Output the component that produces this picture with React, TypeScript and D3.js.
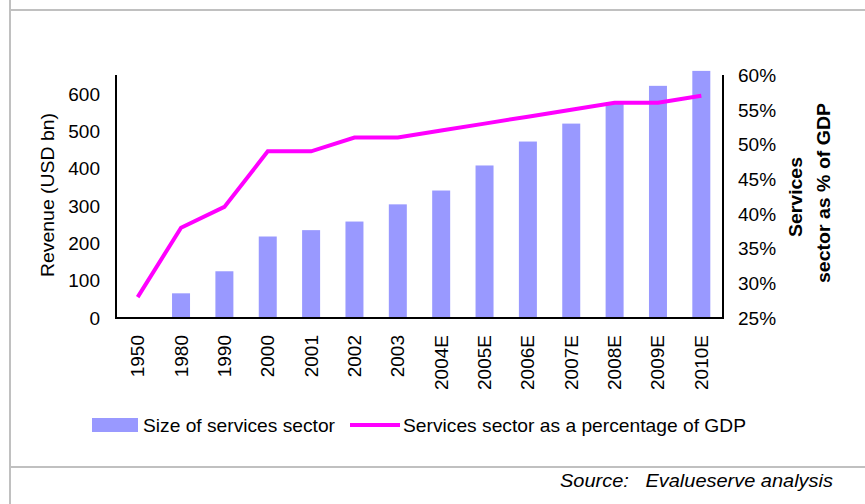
import React from "react";
import * as d3 from "d3";

const categories = ["1950", "1980", "1990", "2000", "2001", "2002", "2003", "2004E", "2005E", "2006E", "2007E", "2008E", "2009E", "2010E"];
const revenue = [0, 66, 125, 218, 235, 258, 304, 341, 408, 472, 520, 573, 621, 661];
const shareOfGdp = [28, 38, 41, 49, 49, 51, 51, 52, 53, 54, 55, 56, 56, 57];
const leftTicks = [0, 100, 200, 300, 400, 500, 600];
const rightTicks = [25, 30, 35, 40, 45, 50, 55, 60];

const W = 865;
const H = 504;
const plotLeft = 116;
const plotRight = 723;
const plotTop = 75;
const plotBottom = 318;
const FONT = "'Liberation Sans', Arial, sans-serif";
const FS = 19;

export default function App() {
  const x = d3.scaleBand<string>().domain(categories).range([plotLeft, plotRight]).paddingInner(0.585).paddingOuter(0.2925);
  const yL = d3.scaleLinear().domain([0, 650]).range([plotBottom, plotTop]);
  const yR = d3.scaleLinear().domain([25, 60]).range([plotBottom, plotTop]);
  const cx = (c: string) => (x(c) as number) + x.bandwidth() / 2;
  const line = d3
    .line<number>()
    .x((_, i) => cx(categories[i]))
    .y((d) => yR(d));

  return (
    <svg width={W} height={H} style={{ position: "absolute", left: 0, top: 0, background: "#fff" }} fontFamily={FONT}>
      <rect x={0} y={0} width={W} height={H} fill="#fff" />
      {/* frame lines */}
      <line x1={10} x2={10} y1={0} y2={H} stroke="#c0c0c0" strokeWidth={2} />
      <line x1={10} x2={W} y1={10} y2={10} stroke="#c0c0c0" strokeWidth={2} />
      <line x1={10} x2={W} y1={467} y2={467} stroke="#c0c0c0" strokeWidth={2} />

      {/* bars */}
      {categories.map((c, i) =>
        revenue[i] > 0 ? (
          <rect key={c} x={x(c)} y={yL(revenue[i])} width={x.bandwidth()} height={plotBottom - yL(revenue[i])} fill="#9999ff" />
        ) : null
      )}

      {/* line */}
      <path d={line(shareOfGdp) || ""} fill="none" stroke="#ff00ff" strokeWidth={4} strokeLinejoin="miter" />

      {/* axes */}
      <line x1={plotLeft} x2={plotLeft} y1={plotTop} y2={plotBottom} stroke="#000" strokeWidth={2} />
      <line x1={plotRight} x2={plotRight} y1={plotTop} y2={plotBottom} stroke="#000" strokeWidth={2} />
      <line x1={plotLeft - 1} x2={plotRight + 1} y1={plotBottom} y2={plotBottom} stroke="#000" strokeWidth={2} />

      {leftTicks.map((t) => (
        <text key={t} x={100} y={yL(t)} dy="0.36em" textAnchor="end" fontSize={FS} fill="#000">
          {t}
        </text>
      ))}
      {rightTicks.map((t) => (
        <text key={t} x={738} y={yR(t)} dy="0.36em" textAnchor="start" fontSize={FS} fill="#000">
          {t}%
        </text>
      ))}

      {categories.map((c) => (
        <text key={c} transform={`translate(${cx(c) + 6.5},335) rotate(-90)`} textAnchor="end" fontSize={FS} fill="#000">
          {c}
        </text>
      ))}

      {/* axis titles */}
      <text transform="translate(54,195) rotate(-90)" textAnchor="middle" fontSize={FS} fill="#000" textLength={164} lengthAdjust="spacingAndGlyphs">
        Revenue (USD bn)
      </text>
      <text transform="translate(802,197) rotate(-90)" textAnchor="middle" fontSize={FS} fontWeight="bold" fill="#000" textLength={80} lengthAdjust="spacingAndGlyphs">
        Services
      </text>
      <text transform="translate(830,193) rotate(-90)" textAnchor="middle" fontSize={FS} fontWeight="bold" fill="#000" textLength={180} lengthAdjust="spacingAndGlyphs">
        sector as % of GDP
      </text>

      {/* legend */}
      <rect x={92} y={418} width={46} height={14} fill="#9999ff" />
      <text x={143} y={432} fontSize={FS} fill="#000" textLength={192} lengthAdjust="spacingAndGlyphs">
        Size of services sector
      </text>
      <line x1={350} x2={400} y1={425} y2={425} stroke="#ff00ff" strokeWidth={4} />
      <text x={403} y={432} fontSize={FS} fill="#000" textLength={343} lengthAdjust="spacingAndGlyphs">
        Services sector as a percentage of GDP
      </text>

      {/* source */}
      <text x={560} y={487} textAnchor="start" fontSize={FS} fontStyle="italic" fill="#000" textLength={273} lengthAdjust="spacingAndGlyphs">
        Source:{"\u00a0\u00a0\u00a0"}Evalueserve analysis
      </text>
    </svg>
  );
}
